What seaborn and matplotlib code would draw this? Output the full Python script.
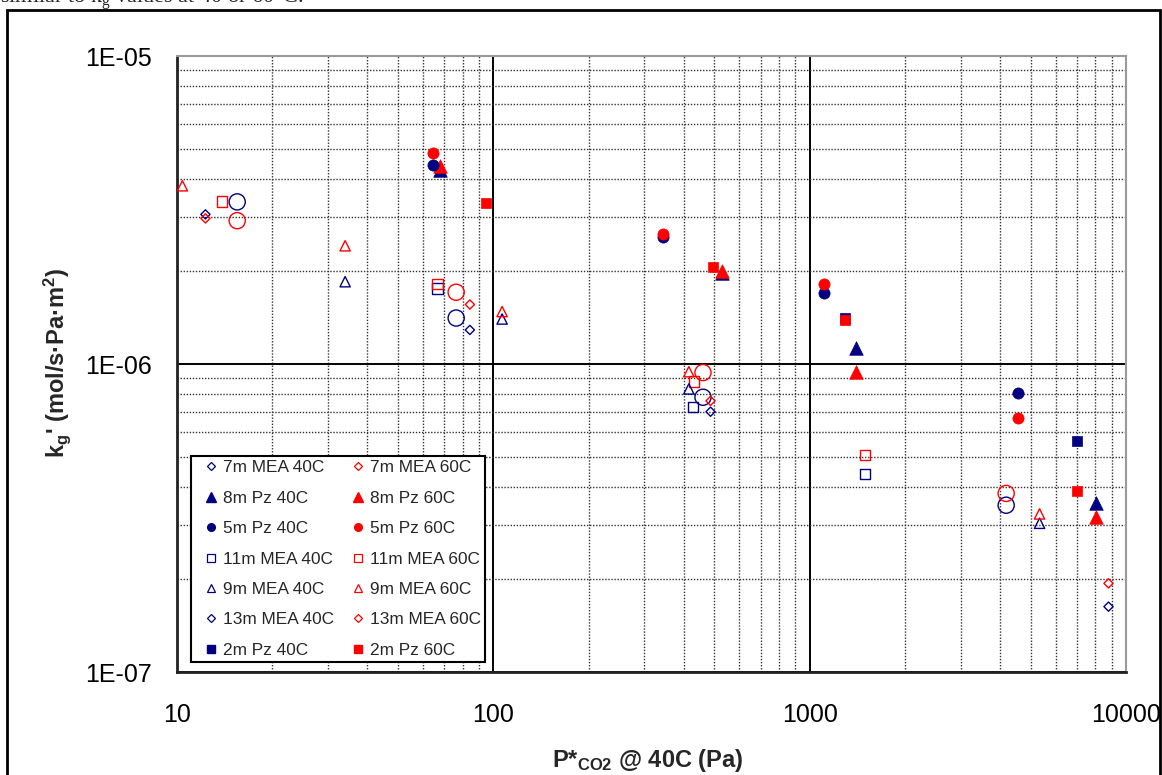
import numpy as np
import matplotlib
matplotlib.use("Agg")
import matplotlib.pyplot as plt
import seaborn as sns
from matplotlib.lines import Line2D
from matplotlib.patches import Rectangle
from matplotlib.ticker import LogLocator, NullFormatter

# ---------------- data ----------------
x_7m_40 = [15.5, 76.3, 460, 4180]
y_7m_40 = [3.36e-6, 1.41e-6, 0.78e-6, 0.348e-6]
x_7m_60 = [15.5, 76.3, 460, 4180]
y_7m_60 = [2.92e-6, 1.71e-6, 0.938e-6, 0.380e-6]

x_8m_40 = [68, 530, 1405, 8055]
y_8m_40 = [4.27e-6, 1.97e-6, 1.13e-6, 0.355e-6]
x_8m_60 = [68, 530, 1405, 8055]
y_8m_60 = [4.39e-6, 2.00e-6, 0.944e-6, 0.319e-6]

x_5m_40 = [64.5, 344, 1114, 4550]
y_5m_40 = [4.43e-6, 2.58e-6, 1.70e-6, 0.803e-6]
x_5m_60 = [64.5, 344, 1114, 4550]
y_5m_60 = [4.83e-6, 2.64e-6, 1.82e-6, 0.67e-6]

x_11m_40 = [66.6, 428, 1493]
y_11m_40 = [1.76e-6, 0.724e-6, 0.44e-6]
x_11m_60 = [13.9, 66.6, 431, 1493]
y_11m_60 = [3.37e-6, 1.82e-6, 0.877e-6, 0.506e-6]

x_9m_40 = [34, 106.6, 415, 5330]
y_9m_40 = [1.85e-6, 1.40e-6, 0.83e-6, 0.304e-6]
x_9m_60 = [10.4, 34, 106.6, 415, 5330]
y_9m_60 = [3.79e-6, 2.42e-6, 1.48e-6, 0.944e-6, 0.326e-6]

x_13m_40 = [12.3, 84.3, 486, 8805]
y_13m_40 = [3.06e-6, 1.29e-6, 0.70e-6, 0.163e-6]
x_13m_60 = [12.3, 84.3, 486, 8805]
y_13m_60 = [2.97e-6, 1.56e-6, 0.759e-6, 0.194e-6]

x_2m_40 = [1290, 7014]
y_2m_40 = [1.41e-6, 0.564e-6]
x_2m_60 = [94.8, 495, 1290, 7014]
y_2m_60 = [3.34e-6, 2.07e-6, 1.39e-6, 0.387e-6]

series_labels = ["7m MEA 40C", "7m MEA 60C", "8m Pz 40C", "8m Pz 60C",
                 "5m Pz 40C", "5m Pz 60C", "11m MEA 40C", "11m MEA 60C",
                 "9m MEA 40C", "9m MEA 60C", "13m MEA 40C", "13m MEA 60C",
                 "2m Pz 40C", "2m Pz 60C"]
series_x = [x_7m_40, x_7m_60, x_8m_40, x_8m_60, x_5m_40, x_5m_60,
            x_11m_40, x_11m_60, x_9m_40, x_9m_60, x_13m_40, x_13m_60,
            x_2m_40, x_2m_60]
series_y = [y_7m_40, y_7m_60, y_8m_40, y_8m_60, y_5m_40, y_5m_60,
            y_11m_40, y_11m_60, y_9m_40, y_9m_60, y_13m_40, y_13m_60,
            y_2m_40, y_2m_60]

xtick_values = [10, 100, 1000, 10000]
xtick_labels = ["10", "100", "1000", "10000"]
ytick_values = [1e-7, 1e-6, 1e-5]
ytick_labels = ["1E-07", "1E-06", "1E-05"]

# ---------------- styles ----------------
NAVY = "#000080"
RED = "#ff0000"
# (marker, scatter size, filled, legend marker, legend size)
style_by_mix = {
    "7m":  ("o", 135, False, "D", 4.3),
    "8m":  ("^", 95, True, "^", 6.5),
    "5m":  ("o", 65, True, "o", 5.5),
    "11m": ("s", 55, False, "s", 5.5),
    "9m":  ("^", 55, False, "^", 6.0),
    "13m": ("D", 22, False, "D", 4.3),
    "2m":  ("s", 42, True, "s", 5.5),
}

sns.set_theme(style="white")
plt.rcParams['font.family'] = ['Liberation Sans', 'DejaVu Sans']
plt.rcParams['mathtext.fontset'] = 'custom'
plt.rcParams['mathtext.rm'] = 'Liberation Sans'
plt.rcParams['mathtext.bf'] = 'Liberation Sans:bold'
plt.rcParams['mathtext.it'] = 'Liberation Sans:italic'

W, H = 1162, 775
fig = plt.figure(figsize=(W / 100, H / 100), dpi=100)
fig.patch.set_facecolor("white")
ax = fig.add_axes([177 / W, 1 - 672 / H, (1126 - 177) / W, (672 - 56) / H])

handles = {}
for lab, xs, ys in zip(series_labels, series_x, series_y):
    mix = lab.split()[0]
    col = NAVY if "40C" in lab else RED
    m, s, filled, lm, ls = style_by_mix[mix]
    if filled:
        sns.scatterplot(x=xs, y=ys, ax=ax, marker=m, s=s, color=col,
                        edgecolor=col, linewidth=0.5, zorder=3, legend=False)
        handles[lab] = Line2D([], [], ls="none", marker=lm, markersize=ls,
                              markerfacecolor=col, markeredgecolor=col)
    else:
        sns.scatterplot(x=xs, y=ys, ax=ax, marker=m, s=s, color=col,
                        facecolor="none", edgecolor=col, linewidth=1.0,
                        zorder=3, legend=False)
        handles[lab] = Line2D([], [], ls="none", marker=lm, markersize=ls,
                              markerfacecolor="none", markeredgecolor=col,
                              markeredgewidth=0.9)

ax.set_xscale("log")
ax.set_yscale("log")
ax.set_xlim(10, 10000)
ax.set_ylim(1e-7, 1e-5)
ax.set_xticks(xtick_values, labels=xtick_labels)
ax.set_yticks(ytick_values, labels=ytick_labels)
ax.xaxis.set_minor_locator(LogLocator(base=10, subs=np.arange(2, 10)))
ax.yaxis.set_minor_locator(LogLocator(base=10, subs=np.arange(2, 10)))
ax.xaxis.set_minor_formatter(NullFormatter())
ax.yaxis.set_minor_formatter(NullFormatter())

ax.set_axisbelow(True)
ax.grid(which="minor", linestyle=(0, (1, 1.2)), color="#333333", linewidth=1.0)
ax.grid(which="major", linestyle="-", color="black", linewidth=1.4)

ax.tick_params(which="major", direction="out", length=9, width=1.5,
               color="black", labelsize=18, labelcolor="black")
ax.tick_params(axis="x", which="major", pad=13)
ax.tick_params(axis="y", which="major", pad=9)
ax.tick_params(which="minor", length=0)

for sp in ["left", "bottom"]:
    ax.spines[sp].set_color("#222222")
    ax.spines[sp].set_linewidth(2)
for sp in ["top", "right"]:
    ax.spines[sp].set_color("#9a9a9a")
    ax.spines[sp].set_linewidth(1.5)

# legend: left column 40C, right column 60C
left_col = [l for l in series_labels if "40C" in l]
right_col = [l for l in series_labels if "60C" in l]
order = left_col + right_col
leg = ax.legend([handles[l] for l in order], order, ncol=2, loc="lower left",
                bbox_to_anchor=(14 / 949, 10 / 616, 294 / 949, 212 / 616),
                mode="expand", fontsize=12.4, frameon=True, fancybox=False,
                edgecolor="black", facecolor="white", framealpha=1,
                handlelength=1.78, handletextpad=-0.19, labelspacing=0.89,
                borderpad=0.25, columnspacing=0.6, borderaxespad=0)
leg.get_frame().set_linewidth(1.5)
leg.set_zorder(5)

# axis titles
fig.text(648 / W, 1 - 760 / H, "P*$_\\mathbf{CO2}$ @ 40C (Pa)",
         ha="center", va="center", fontsize=17, fontweight="bold")
fig.text(57 / W, 1 - 363 / H, "k$_\\mathbf{g}$' (mol/s·Pa·m$^\\mathbf{2}$)",
         ha="center", va="center", rotation=90, fontsize=17, fontweight="bold")

# cropped document text at the top
fig.text(0.0, 1 - 3 / H, "similar to k$_\\mathregular{g}$ values at 40 or 60°C.",
         ha="left", va="baseline", fontsize=16, family="Liberation Serif")

# outer chart frame
fig.add_artist(Rectangle((7 / W, -0.05), (1160 - 7) / W, (1 - 10 / H) + 0.05,
                         transform=fig.transFigure, fill=False,
                         edgecolor="black", linewidth=2))

fig.savefig("out.png", dpi=100, facecolor="white")
